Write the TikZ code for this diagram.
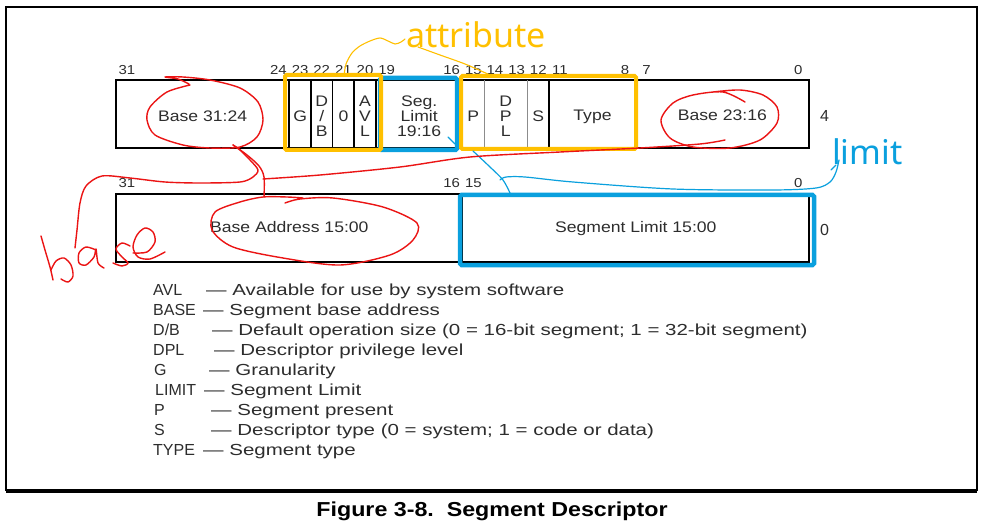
\documentclass[tikz,border=0pt]{standalone}
\usepackage{fontspec}
\setmainfont{Liberation Sans}
\newfontfamily\figfont[FakeStretch=1.15]{Liberation Sans}
\newfontfamily\legfont[FakeStretch=1.28]{Liberation Sans}
\newfontfamily\handfont{Noto Sans}
\usepackage{tikz}
\usetikzlibrary{
  arrows.meta,
  positioning,
  calc
}
\definecolor{inkgray}{RGB}{45,45,45}
\definecolor{markred}{RGB}{235,20,20}
\definecolor{markyellow}{RGB}{255,192,0}
\definecolor{markblue}{RGB}{10,160,222}
\tikzset{
  bitnum/.style={font=\figfont\fontsize{13}{13}\selectfont,text=inkgray,anchor=base,inner sep=0pt},
  fieldtxt/.style={font=\figfont\fontsize{15.3}{15}\selectfont,text=inkgray,align=center,inner sep=0pt},
  legkey/.style={font=\fontsize{16}{16}\selectfont,text=inkgray,anchor=base west,inner sep=0pt},
  legtxt/.style={legkey,font=\legfont\fontsize{16}{16}\selectfont},
  rowbox/.style={draw=black,line width=2pt},
  bitline/.style={draw=black,line width=1.6pt},
  softline/.style={draw=black!45,line width=1pt},
  yellowbox/.style={draw=markyellow,line width=4pt,rounded corners=1.5pt},
  bluebox/.style={draw=markblue,line width=4.5pt,rounded corners=1.5pt},
  redink/.style={draw=markred,line width=1.4pt,line cap=round,line join=round},
  yellowink/.style={draw=markyellow,line width=1.1pt,line cap=round},
  blueink/.style={draw=markblue,line width=1.2pt,line cap=round},
  handtxt/.style={font=\handfont\fontsize{34}{34}\selectfont,anchor=base west,inner sep=0pt},
}

\begin{document}
\begin{tikzpicture}[x=1pt,y=-1pt]
  \fill[white] (0,0) rectangle (984,521);
  \useasboundingbox (0,0) rectangle (984,521);
  % frame and caption
  \draw[line width=2pt] (6,7) rectangle (977,490);
  \draw[line width=1.4pt] (6,492) -- (977,492);
  \node[font=\figfont\bfseries\fontsize{20.2}{21}\selectfont,anchor=base] (caption) at (492,516) {Figure 3-8.\ \ Segment Descriptor};

  % upper doubleword
  \draw[rowbox] (116,80) rectangle (809,148);
  \foreach \b in {23,22,21,20,19,11,7}
    \draw[bitline] ({116+(31-\b)*21.656},80) -- ({116+(31-\b)*21.656},148);
  \foreach \b in {15,14,12}
    \draw[softline] ({116+(31-\b)*21.656},80) -- ({116+(31-\b)*21.656},148);
  \foreach \b in {31,24,23,22,21,20,19,16,15,14,13,12,11,8,7,0}
    \node[bitnum] (t\b) at ({116+(31.5-\b)*21.656},75) {\b};
  \node[fieldtxt,anchor=base] (hibase) at (202.6,122) {Base 31:24};
  \node[fieldtxt,anchor=base] (gbit) at (300.1,122) {G};
  \node[fieldtxt] (dbbit) at (321.8,116.5) {D\\/\\B};
  \node[fieldtxt,anchor=base] (zbit) at (343.4,122) {0};
  \node[fieldtxt] (avlbit) at (365.1,116.5) {A\\V\\L};
  \node[fieldtxt] (seglim) at (419.2,116.5) {Seg.\\Limit\\19:16};
  \node[fieldtxt,anchor=base] (pbit) at (473.3,122) {P};
  \node[fieldtxt] (dplbits) at (505.8,116.5) {D\\P\\L};
  \node[fieldtxt,anchor=base] (sbit) at (538.3,122) {S};
  \node[fieldtxt,anchor=base] (typebits) at (592.5,121) {Type};
  \node[fieldtxt,anchor=base] (midbase) at (722.4,121) {Base 23:16};
  \node[legkey] (offhi) at (820,122) {4};

  % lower doubleword
  \draw[rowbox] (116,194) rectangle (809,262);
  \draw[bitline] ({116+16*21.656},194) -- ({116+16*21.656},262);
  \foreach \b in {31,16,15,0}
    \node[bitnum] (b\b) at ({116+(31.5-\b)*21.656},188) {\b};
  \node[fieldtxt,anchor=base] (lobase) at (289.3,233) {Base Address 15:00};
  \node[fieldtxt,anchor=base] (lolimit) at (635.8,233) {Segment Limit 15:00};
  \node[legkey] (offlo) at (820,236) {0};

  % legend
  \node[legkey] (kavl) at (153,295) {AVL};
  \node[legtxt] (tavl) at (206,295) {— Available for use by system software};
  \node[legkey] (kbase) at (153,315) {BASE};
  \node[legtxt] (tbase) at (203,315) {— Segment base address};
  \node[legkey] (kdb) at (153,335) {D/B};
  \node[legtxt] (tdb) at (212,335) {— Default operation size (0 = 16-bit segment; 1 = 32-bit segment)};
  \node[legkey] (kdpl) at (153,355) {DPL};
  \node[legtxt] (tdpl) at (214,355) {— Descriptor privilege level};
  \node[legkey] (kg) at (154,375) {G};
  \node[legtxt] (tg) at (209,375) {— Granularity};
  \node[legkey] (klimit) at (155,395) {LIMIT};
  \node[legtxt] (tlimit) at (204,395) {— Segment Limit};
  \node[legkey] (kp) at (154,415) {P};
  \node[legtxt] (tp) at (211,415) {— Segment present};
  \node[legkey] (ks) at (154,435) {S};
  \node[legtxt] (ts) at (211,435) {— Descriptor type (0 = system; 1 = code or data)};
  \node[legkey] (ktype) at (153,455) {TYPE};
  \node[legtxt] (ttype) at (203,455) {— Segment type};

  % marker boxes
  \draw[bluebox] (380,78) rectangle (457,150);
  \draw[bluebox] (460,195) rectangle (814,265);
  \draw[yellowbox] (285,75) rectangle (381,150);
  \draw[yellowbox] (461,76) rectangle (636,149);

  % attribute note
  \node[handtxt,text=markyellow] (attrnote) at (406,48) {attribute};
  \draw[yellowink,smooth] plot coordinates {
    (344,76) (346,64) (352,53) (360,46) (370,41) (380,38) (388,41) (395,44) (401,42) (405,39)
  };
  \draw[yellowink,smooth] plot coordinates {
    (418,47) (440,55) (465,64) (490,75)
  };

  % limit note
  \node[handtxt,text=markblue] (limnote) at (832,165) {limit};
  \draw[blueink] (448,137) -- (455,144);
  \draw[blueink,smooth] plot coordinates {
    (473,151) (490,167) (503,180) (510,193)
  };
  \draw[blueink,smooth] plot coordinates {
    (500,180) (506,177) (525,177) (573,182) (673,189) (773,190) (816,188) (830,182) (836,172) (839,160)
  };
  \draw[blueink] (831,170) -- (836,165);

  % base note
  \draw[redink,smooth] plot coordinates {
    (190,85) (167,92) (150,107) (147,120) (155,135) (183,145) (210,148) (240,147)
    (257,137) (263,120) (258,102) (240,88) (210,80) (183,77) (165,77) (178,79) (189,84)
  };
  \draw[redink,smooth] plot coordinates {
    (745,102) (723,92) (693,95) (673,103) (661,120) (670,138) (693,147) (730,148)
    (760,140) (777,123) (777,107) (763,95) (740,90) (713,92)
  };
  \draw[redink,smooth] plot coordinates {
    (285,203) (300,199) (333,198) (383,207) (417,223) (413,240) (390,255) (340,265)
    (283,258) (233,247) (212,230) (215,212) (240,202) (263,197) (287,197) (303,198)
  };
  \draw[redink,smooth] plot coordinates {
    (233,145) (247,155) (259,166) (264,177) (264,197)
  };
  \draw[redink,smooth] plot coordinates {
    (75,248) (77,230) (80,203) (86,186) (102,176) (130,178) (165,182) (200,183)
    (240,182) (253,177) (258,170) (250,160) (240,150) (233,145)
  };
  \draw[redink,smooth] plot coordinates {
    (263,179) (320,175) (400,167) (470,157) (560,152) (640,148) (700,144) (725,140)
  };
  % handwritten letters
  \draw[redink,smooth] plot coordinates {(41,236) (45,250) (50,267) (53,280)};
  \draw[redink,smooth] plot coordinates {(51,270) (56,261) (64,258) (71,265) (73,276) (68,282) (61,279)};
  \draw[redink,smooth] plot coordinates {(96,250) (86,247) (79,253) (79,263) (86,265) (94,257) (96,249) (98,263) (104,268)};
  \draw[redink,smooth] plot coordinates {(130,246) (122,243) (116,249) (122,257) (128,263) (122,266) (113,263)};
  \draw[redink,smooth] plot coordinates {
    (133,253) (147,252) (155,242) (153,232) (145,228) (137,235) (133,247) (138,257) (150,259) (165,252)
  };
\end{tikzpicture}
\end{document}
